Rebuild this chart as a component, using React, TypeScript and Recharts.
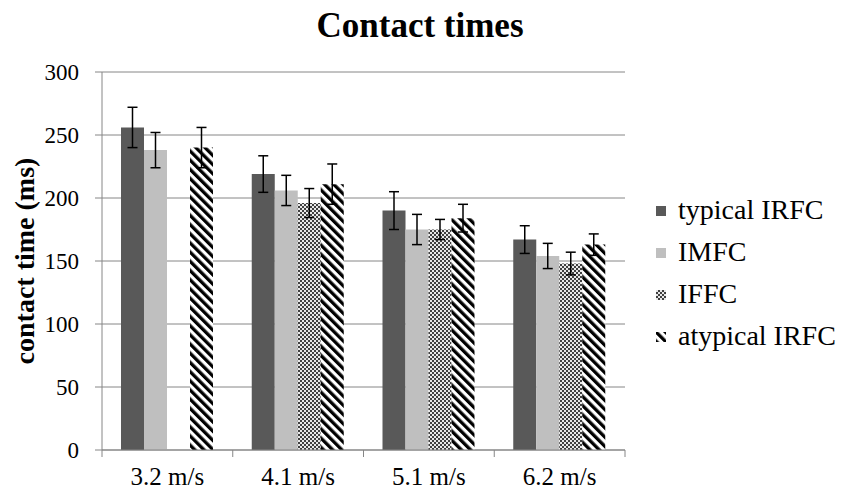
import React from 'react'
import { BarChart, Bar, XAxis, YAxis, CartesianGrid, ErrorBar } from 'recharts'

const categories = ['3.2 m/s', '4.1 m/s', '5.1 m/s', '6.2 m/s']
const typicalIRFC = [256, 219, 190, 167]
const typicalIRFCErr = [16, 14.5, 15, 11]
const imfc = [238, 206, 175, 154]
const imfcErr = [14, 12, 12, 10]
const iffc = [null, 196, 175, 148]
const iffcErr = [null, 11.5, 8, 9]
const atypicalIRFC = [240, 211, 184, 163]
const atypicalIRFCErr = [16, 16, 11, 8.5]
const yTicks = [0, 50, 100, 150, 200, 250, 300]

const series = [
    { key: 'typical', name: 'typical IRFC', fill: '#595959' },
    { key: 'imfc', name: 'IMFC', fill: '#bfbfbf' },
    { key: 'iffc', name: 'IFFC', fill: 'url(#iffcPattern)' },
    { key: 'atypical', name: 'atypical IRFC', fill: 'url(#stripePattern)' },
]

const data = categories.map((name, i) => ({
    name,
    typical: typicalIRFC[i],
    typicalErr: typicalIRFCErr[i],
    imfc: imfc[i],
    imfcErr: imfcErr[i],
    iffc: iffc[i],
    iffcErr: iffcErr[i],
    atypical: atypicalIRFC[i],
    atypicalErr: atypicalIRFCErr[i],
}))

const font = '"Liberation Serif", "Times New Roman", serif'
const axisGray = '#868686'

const CategoryTick = (props: any) => {
    const { x, y, payload, index, visibleTicksCount, width } = props
    const half = payload && payload.offset ? payload.offset : width / visibleTicksCount / 2
    const isLast = index === visibleTicksCount - 1
    return (
        <g>
            <line x1={x - half} y1={y} x2={x - half} y2={y + 7} stroke={axisGray} />
            {isLast && <line x1={x + half} y1={y} x2={x + half} y2={y + 7} stroke={axisGray} />}
            <text x={x} y={y + 35} textAnchor="middle" fontFamily={font} fontSize={25} fill="#000">
                {payload.value}
            </text>
        </g>
    )
}

export default function App() {
    return (
        <div style={{ position: 'absolute', left: 0, top: 0, width: 845, height: 491, background: '#fff' }}>
            <svg width={845} height={491} style={{ position: 'absolute', left: 0, top: 0 }}>
                <defs>
                    <pattern id="iffcPattern" width={4} height={4} patternUnits="userSpaceOnUse">
                        <rect width={4} height={4} fill="#e8e8e8" />
                        <rect x={0} y={0} width={2} height={2} fill="#404040" />
                        <rect x={2} y={2} width={2} height={2} fill="#404040" />
                    </pattern>
                    <pattern id="stripePattern" width={6.5} height={6.5} patternUnits="userSpaceOnUse" patternTransform="rotate(-45)">
                        <rect width={6.5} height={6.5} fill="#fff" />
                        <rect width={3.3} height={6.5} fill="#000" />
                    </pattern>
                </defs>
                {/* title */}
                <text x={420} y={37} textAnchor="middle" fontFamily={font} fontWeight="bold" fontSize={35} fill="#000">
                    Contact times
                </text>
                {/* legend */}
                {series.map((s, i) => (
                    <g key={s.key}>
                        <rect x={656} y={206 + i * 42} width={10} height={10} fill={s.fill} />
                        <text x={678} y={219 + i * 42} fontFamily={font} fontSize={28} fill="#000">{s.name}</text>
                    </g>
                ))}
            </svg>
            <div style={{ position: 'absolute', left: 0, top: 0 }}>
                <BarChart width={845} height={491} data={data}
                    margin={{ top: 72, right: 220, left: 0, bottom: 11 }}
                    barGap={0} barSize={23}
                >
                    <CartesianGrid vertical={false} stroke={axisGray} />
                    <XAxis dataKey="name" tick={<CategoryTick />} tickLine={false} tickSize={0} tickMargin={0}
                        height={30} axisLine={{ stroke: axisGray }} interval={0} />
                    <YAxis width={102} domain={[0, 300]} ticks={yTicks} tickSize={7} tickMargin={16}
                        axisLine={{ stroke: axisGray }} tickLine={{ stroke: axisGray }}
                        tick={{ fontFamily: font, fontSize: 23, fill: '#000' }}
                        label={{
                            value: 'contact time (ms)', angle: -90, position: 'insideLeft', offset: 24,
                            style: { fontFamily: font, fontSize: 28, fontWeight: 'bold', fill: '#000', textAnchor: 'middle' },
                        }}
                    />
                    {series.map((s) => (
                        <Bar key={s.key} dataKey={s.key} name={s.name} fill={s.fill} isAnimationActive={false}>
                            <ErrorBar dataKey={s.key + 'Err'} width={5} stroke="#000" strokeWidth={1.5} />
                        </Bar>
                    ))}
                </BarChart>
            </div>
        </div>
    )
}
